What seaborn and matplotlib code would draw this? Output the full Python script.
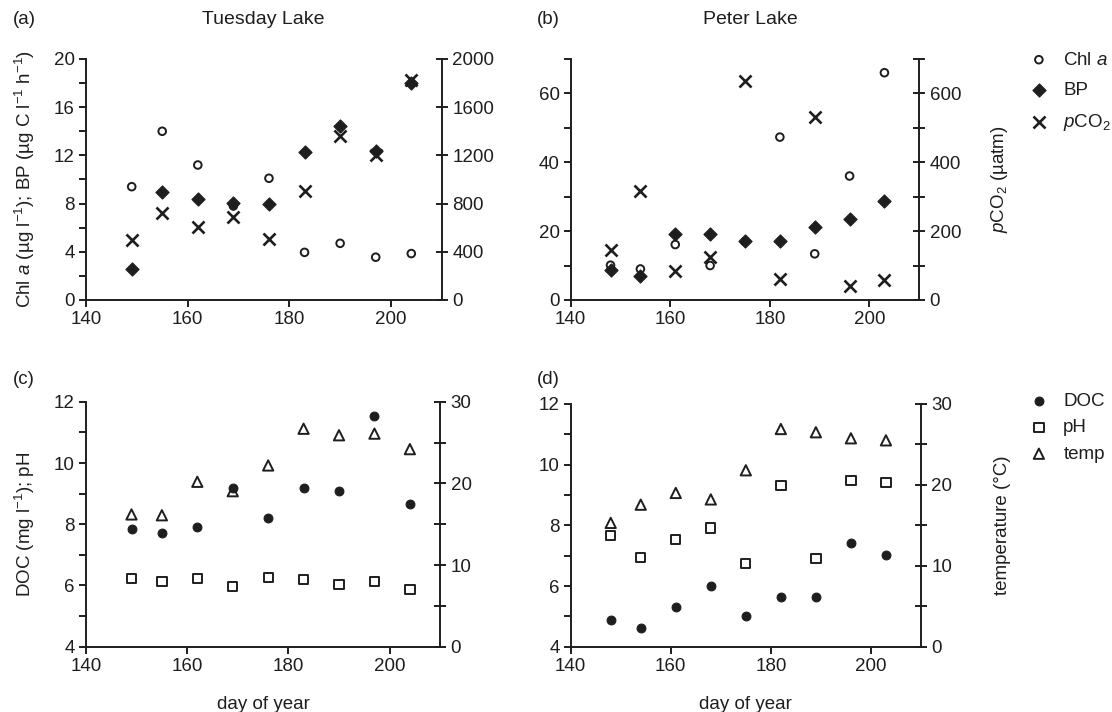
import matplotlib
matplotlib.use("Agg")
import matplotlib.pyplot as plt
import seaborn as sns
from matplotlib.ticker import MultipleLocator

# Data
tues_day = [149, 155, 162, 169, 176, 183, 190, 197, 204]
tues_chl = [9.4, 14.0, 11.2, 7.8, 10.1, 3.95, 4.7, 3.55, 3.85]
tues_bp = [2.55, 9.0, 8.4, 8.05, 8.0, 12.25, 14.4, 12.4, 18.0]
tues_pco2 = [500, 718, 602, 690, 508, 906, 1362, 1207, 1823]
tues_doc = [7.85, 7.73, 7.9, 9.17, 8.2, 9.19, 9.08, 11.55, 8.67]
tues_ph = [6.23, 6.14, 6.23, 5.97, 6.25, 6.2, 6.03, 6.14, 5.86]
tues_temp = [16.2, 16.1, 20.2, 19.05, 22.2, 26.7, 25.9, 26.1, 24.2]

peter_day = [148, 154, 161, 168, 175, 182, 189, 196, 203]
peter_chl = [10.1, 9.0, 16.1, 10.0, 17.0, 47.3, 13.4, 36.0, 66.0]
peter_bp = [8.7, 7.1, 19.1, 19.1, 17.1, 17.1, 21.3, 23.4, 28.6]
peter_pco2 = [145, 316, 84, 124, 637, 62, 532, 42, 59]
peter_doc = [4.88, 4.63, 5.3, 6.01, 5.02, 5.65, 5.65, 7.41, 7.02]
peter_ph = [7.66, 6.95, 7.54, 7.91, 6.74, 9.32, 6.91, 9.48, 9.41]
peter_temp = [15.3, 17.55, 19.0, 18.2, 21.8, 26.9, 26.5, 25.75, 25.5]

sns.set_style("ticks")
plt.rcParams["font.family"] = ["Liberation Sans", "DejaVu Sans"]
plt.rcParams["mathtext.fontset"] = "custom"
plt.rcParams["mathtext.rm"] = "Liberation Sans"
plt.rcParams["mathtext.it"] = "Liberation Sans:italic"
plt.rcParams["mathtext.default"] = "rm"

ink = "#1e1e1e"
fs = 13.5

fig = plt.figure(figsize=(11.12, 7.12), dpi=100)
ax_a = fig.add_axes([0.0773, 0.5787, 0.320, 0.3385])
ax_b = fig.add_axes([0.5132, 0.5787, 0.3135, 0.3385])
ax_c = fig.add_axes([0.0773, 0.0917, 0.3186, 0.344])
ax_d = fig.add_axes([0.5132, 0.0917, 0.315, 0.341])


def style_axes(ax, ylim, major, minor):
    ax.set_xlim(140, 210)
    ax.set_ylim(*ylim)
    ax.xaxis.set_major_locator(MultipleLocator(20))
    ax.yaxis.set_major_locator(MultipleLocator(major))
    ax.yaxis.set_minor_locator(MultipleLocator(minor))
    for s in ["top", "right"]:
        ax.spines[s].set_visible(False)
    for s in ["left", "bottom"]:
        ax.spines[s].set_linewidth(1.4)
        ax.spines[s].set_color(ink)
    ax.tick_params(which="both", direction="out", width=1.4, color=ink,
                   length=5, labelsize=fs, labelcolor=ink, pad=3)
    tw = ax.twinx()
    for s in ["top", "left", "bottom"]:
        tw.spines[s].set_visible(False)
    tw.spines["right"].set_linewidth(1.4)
    tw.spines["right"].set_color(ink)
    tw.tick_params(which="both", direction="inout", width=1.4, color=ink,
                   length=9, labelsize=fs, labelcolor=ink, pad=3)
    return tw


def pts(ax, x, y, marker, filled, s, lw=1.4):
    if filled:
        sns.scatterplot(x=x, y=y, ax=ax, marker=marker, s=s, color=ink,
                        edgecolor=ink, linewidth=0.8, zorder=3)
    elif marker == "x":
        sns.scatterplot(x=x, y=y, ax=ax, marker=marker, s=s, color=ink,
                        linewidth=lw, zorder=3)
    else:
        sns.scatterplot(x=x, y=y, ax=ax, marker=marker, s=s, facecolor="none",
                        edgecolor=ink, linewidth=lw, zorder=3)


# (a) Tuesday Lake
tw_a = style_axes(ax_a, (0, 20), 4, 2)
tw_a.set_ylim(0, 2000)
tw_a.yaxis.set_major_locator(MultipleLocator(400))
pts(ax_a, tues_day, tues_chl, "o", False, 30)
pts(ax_a, tues_day, tues_bp, "D", True, 45)
pts(tw_a, tues_day, tues_pco2, "x", False, 75, lw=1.9)
ax_a.set_ylabel("Chl $\\mathit{a}$ (µg l$^{-1}$); BP (µg C l$^{-1}$ h$^{-1}$)",
                fontsize=fs, color=ink, labelpad=12)

# (b) Peter Lake
tw_b = style_axes(ax_b, (0, 70), 20, 10)
tw_b.set_ylim(0, 700)
tw_b.yaxis.set_major_locator(MultipleLocator(200))
tw_b.yaxis.set_minor_locator(MultipleLocator(100))
pts(ax_b, peter_day, peter_chl, "o", False, 30)
pts(ax_b, peter_day, peter_bp, "D", True, 45)
pts(tw_b, peter_day, peter_pco2, "x", False, 75, lw=1.9)
tw_b.set_ylabel("$\\mathit{p}$CO$_2$ (µatm)", fontsize=fs, color=ink, labelpad=20)

# (c) Tuesday Lake
tw_c = style_axes(ax_c, (4, 12), 2, 1)
tw_c.set_ylim(0, 30)
tw_c.yaxis.set_major_locator(MultipleLocator(10))
tw_c.yaxis.set_minor_locator(MultipleLocator(5))
pts(ax_c, tues_day, tues_doc, "o", True, 40)
pts(ax_c, tues_day, tues_ph, "s", False, 45)
pts(tw_c, tues_day, tues_temp, "^", False, 55)
ax_c.set_ylabel("DOC (mg l$^{-1}$); pH", fontsize=fs, color=ink, labelpad=12)
ax_c.set_xlabel("day of year", fontsize=fs, color=ink, labelpad=15)

# (d) Peter Lake
tw_d = style_axes(ax_d, (4, 12), 2, 1)
tw_d.set_ylim(0, 30)
tw_d.yaxis.set_major_locator(MultipleLocator(10))
tw_d.yaxis.set_minor_locator(MultipleLocator(5))
pts(ax_d, peter_day, peter_doc, "o", True, 40)
pts(ax_d, peter_day, peter_ph, "s", False, 45)
pts(tw_d, peter_day, peter_temp, "^", False, 55)
tw_d.set_ylabel("temperature (°C)", fontsize=fs, color=ink, labelpad=30)
ax_d.set_xlabel("day of year", fontsize=fs, color=ink, labelpad=15)

for ax in [ax_a, ax_b]:
    ax.set_xlabel("")

# panel letters and titles
fig.text(13 / 1112, 1 - 20 / 712, "(a)", fontsize=fs, color=ink, va="center")
fig.text(537 / 1112, 1 - 20 / 712, "(b)", fontsize=fs, color=ink, va="center")
fig.text(13 / 1112, 1 - 380 / 712, "(c)", fontsize=fs, color=ink, va="center")
fig.text(537 / 1112, 1 - 380 / 712, "(d)", fontsize=fs, color=ink, va="center")
fig.text(263 / 1112, 1 - 20 / 712, "Tuesday Lake", fontsize=14, color=ink,
         ha="center", va="center")
fig.text(750 / 1112, 1 - 20 / 712, "Peter Lake", fontsize=14, color=ink,
         ha="center", va="center")

# legends
h_top = [ax_b.collections[0], ax_b.collections[1], tw_b.collections[0]]
fig.legend(h_top, ["Chl $\\mathit{a}$", "BP", "$\\mathit{p}$CO$_2$"],
           loc="upper left", bbox_to_anchor=(1022 / 1112, 1 - 44 / 712),
           frameon=False, fontsize=fs, handlelength=1.0, handletextpad=0.8,
           labelspacing=0.7, borderaxespad=0, labelcolor=ink)
h_bot = [ax_d.collections[0], ax_d.collections[1], tw_d.collections[0]]
fig.legend(h_bot, ["DOC", "pH", "temp"],
           loc="upper left", bbox_to_anchor=(1022 / 1112, 1 - 385 / 712),
           frameon=False, fontsize=fs, handlelength=1.0, handletextpad=0.8,
           labelspacing=0.5, borderaxespad=0, labelcolor=ink)

fig.savefig("out.png", dpi=100)
